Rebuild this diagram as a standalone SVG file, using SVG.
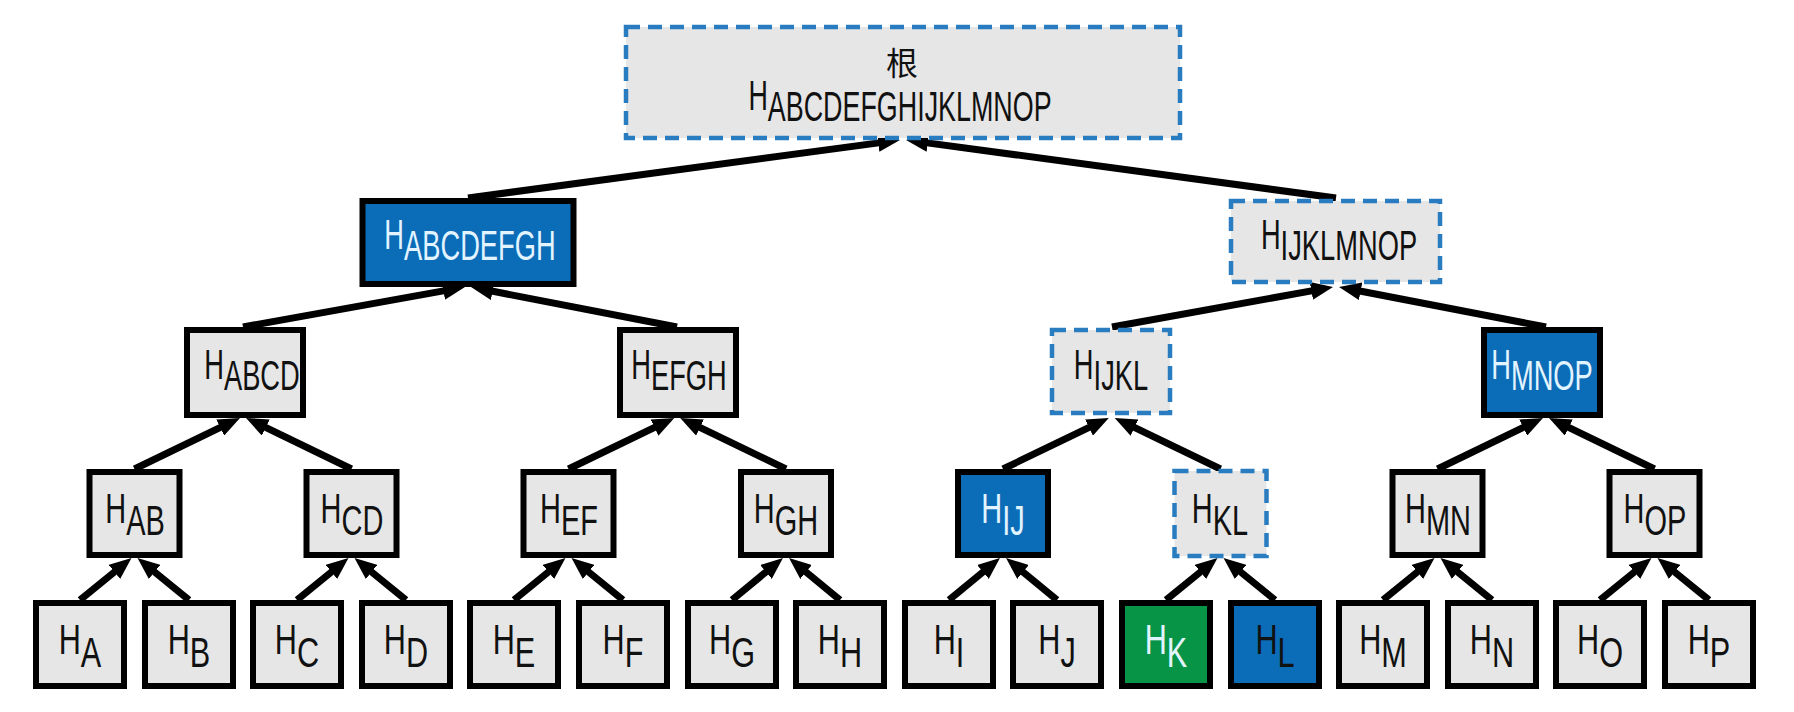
<svg xmlns="http://www.w3.org/2000/svg" width="1794" height="712" viewBox="0 0 1794 712">
<style>
.bg{fill:#fff}
.n{fill:#e6e6e6;stroke:#000;stroke-width:6}
.b{fill:#0b6cb8;stroke:#000;stroke-width:6}
.g{fill:#089447;stroke:#000;stroke-width:6}
.d{fill:#e6e6e6;stroke:#2a7cc0;stroke-width:4.5;stroke-dasharray:14 8}
.t{font-family:"Liberation Sans Narrow","Liberation Sans",sans-serif;font-size:42px;text-anchor:middle;fill:#111}
.w{fill:#e2f4ff}
.cjk{font-family:"Noto Sans CJK SC",sans-serif;font-size:32px;text-anchor:middle;fill:#111}
.e line{stroke:#000;stroke-width:7;marker-end:url(#ah)}
</style>
<defs>
<marker id="ah" markerUnits="userSpaceOnUse" markerWidth="22" markerHeight="18" viewBox="0 0 22 18" refX="10" refY="9" orient="auto">
<path d="M0,0 L22,9 L0,18 z" fill="#000"/>
</marker>
</defs>
<rect class="bg" x="0" y="0" width="1794" height="712"/>
<g id="edges" class="e">
<line x1="80" y1="600" x2="122.2" y2="565.6"/>
<line x1="189" y1="600" x2="146.8" y2="565.6"/>
<line x1="297" y1="600" x2="339.2" y2="565.6"/>
<line x1="406" y1="600" x2="363.8" y2="565.6"/>
<line x1="514" y1="600" x2="556.2" y2="565.6"/>
<line x1="623" y1="600" x2="580.8" y2="565.6"/>
<line x1="732" y1="600" x2="773.7" y2="565.6"/>
<line x1="840" y1="600" x2="798.3" y2="565.6"/>
<line x1="949" y1="600" x2="990.7" y2="565.6"/>
<line x1="1057" y1="600" x2="1015.3" y2="565.6"/>
<line x1="1166" y1="600" x2="1208.2" y2="565.6"/>
<line x1="1275" y1="600" x2="1232.8" y2="565.6"/>
<line x1="1383" y1="600" x2="1425.2" y2="565.6"/>
<line x1="1492" y1="600" x2="1449.8" y2="565.6"/>
<line x1="1600" y1="600" x2="1642.2" y2="565.6"/>
<line x1="1709" y1="600" x2="1666.8" y2="565.6"/>
<line x1="134.5" y1="469" x2="229.2" y2="423.2"/>
<line x1="351.5" y1="469" x2="256.8" y2="423.2"/>
<line x1="568.5" y1="469" x2="663.5" y2="423.2"/>
<line x1="786" y1="469" x2="691" y2="423.2"/>
<line x1="1003" y1="469" x2="1098" y2="423.2"/>
<line x1="1220.5" y1="469" x2="1125.5" y2="423.2"/>
<line x1="1437.5" y1="469" x2="1532.2" y2="423.2"/>
<line x1="1654.5" y1="469" x2="1559.8" y2="423.2"/>
<line x1="243" y1="327" x2="453.2" y2="289.1"/>
<line x1="677" y1="327" x2="482.8" y2="289.3"/>
<line x1="1112" y1="327" x2="1321.2" y2="289.1"/>
<line x1="1546" y1="327" x2="1350.8" y2="289.3"/>
<line x1="468" y1="198" x2="888.1" y2="141.6"/>
<line x1="1336" y1="198" x2="917.9" y2="141.6"/>
</g>
<g id="root"><rect class="d" x="626" y="27" width="554" height="111"/>
<text class="cjk" x="902" y="75">根</text>
<text class="t" transform="translate(900 110) scale(0.64 1)">H<tspan dy="11">ABCDEFGHIJKLMNOP</tspan></text></g>
<g id="HABCDEFGH"><rect class="b" x="362.5" y="201" width="211" height="83"/>
<text class="t w" transform="translate(470 249) scale(0.65 1)">H<tspan dy="11">ABCDEFGH</tspan></text></g>
<g id="HIJKLMNOP"><rect class="d" x="1231" y="201" width="209" height="81"/>
<text class="t" transform="translate(1339 249) scale(0.65 1)">H<tspan dy="11">IJKLMNOP</tspan></text></g>
<g id="HABCD"><rect class="n" x="187" y="330" width="116" height="85"/>
<text class="t" transform="translate(252 379) scale(0.65 1)">H<tspan dy="11">ABCD</tspan></text></g>
<g id="HEFGH"><rect class="n" x="620" y="330" width="116" height="85"/>
<text class="t" transform="translate(679 379) scale(0.65 1)">H<tspan dy="11">EFGH</tspan></text></g>
<g id="HIJKL"><rect class="d" x="1052" y="330" width="118" height="83"/>
<text class="t" transform="translate(1111 379) scale(0.65 1)">H<tspan dy="11">IJKL</tspan></text></g>
<g id="HMNOP"><rect class="b" x="1484" y="330" width="116" height="85"/>
<text class="t w" transform="translate(1542 379) scale(0.65 1)">H<tspan dy="11">MNOP</tspan></text></g>
<g id="HAB"><rect class="n" x="89.5" y="472" width="90" height="83"/>
<text class="t" transform="translate(135 523) scale(0.69 1)">H<tspan dy="12">AB</tspan></text></g>
<g id="HCD"><rect class="n" x="306.5" y="472" width="90" height="83"/>
<text class="t" transform="translate(352 523) scale(0.69 1)">H<tspan dy="12">CD</tspan></text></g>
<g id="HEF"><rect class="n" x="523.5" y="472" width="90" height="83"/>
<text class="t" transform="translate(569 523) scale(0.69 1)">H<tspan dy="12">EF</tspan></text></g>
<g id="HGH"><rect class="n" x="741" y="472" width="90" height="83"/>
<text class="t" transform="translate(786 523) scale(0.69 1)">H<tspan dy="12">GH</tspan></text></g>
<g id="HIJ"><rect class="b" x="958" y="472" width="90" height="83"/>
<text class="t w" transform="translate(1003 523) scale(0.69 1)">H<tspan dy="12">IJ</tspan></text></g>
<g id="HKL"><rect class="d" x="1174.5" y="471" width="92" height="85"/>
<text class="t" transform="translate(1220 523) scale(0.69 1)">H<tspan dy="12">KL</tspan></text></g>
<g id="HMN"><rect class="n" x="1392.5" y="472" width="90" height="83"/>
<text class="t" transform="translate(1438 523) scale(0.69 1)">H<tspan dy="12">MN</tspan></text></g>
<g id="HOP"><rect class="n" x="1609.5" y="472" width="90" height="83"/>
<text class="t" transform="translate(1655 523) scale(0.69 1)">H<tspan dy="12">OP</tspan></text></g>
<g id="HA"><rect class="n" x="36" y="603" width="88" height="83"/><text class="t" transform="translate(80 654) scale(0.73 1)">H<tspan dy="13">A</tspan></text></g>
<g id="HB"><rect class="n" x="145" y="603" width="88" height="83"/><text class="t" transform="translate(189 654) scale(0.73 1)">H<tspan dy="13">B</tspan></text></g>
<g id="HC"><rect class="n" x="253" y="603" width="88" height="83"/><text class="t" transform="translate(297 654) scale(0.73 1)">H<tspan dy="13">C</tspan></text></g>
<g id="HD"><rect class="n" x="362" y="603" width="88" height="83"/><text class="t" transform="translate(406 654) scale(0.73 1)">H<tspan dy="13">D</tspan></text></g>
<g id="HE"><rect class="n" x="470" y="603" width="88" height="83"/><text class="t" transform="translate(514 654) scale(0.73 1)">H<tspan dy="13">E</tspan></text></g>
<g id="HF"><rect class="n" x="579" y="603" width="88" height="83"/><text class="t" transform="translate(623 654) scale(0.73 1)">H<tspan dy="13">F</tspan></text></g>
<g id="HG"><rect class="n" x="688" y="603" width="88" height="83"/><text class="t" transform="translate(732 654) scale(0.73 1)">H<tspan dy="13">G</tspan></text></g>
<g id="HH"><rect class="n" x="796" y="603" width="88" height="83"/><text class="t" transform="translate(840 654) scale(0.73 1)">H<tspan dy="13">H</tspan></text></g>
<g id="HI"><rect class="n" x="905" y="603" width="88" height="83"/><text class="t" transform="translate(949 654) scale(0.73 1)">H<tspan dy="13">I</tspan></text></g>
<g id="HJ"><rect class="n" x="1013" y="603" width="88" height="83"/><text class="t" transform="translate(1057 654) scale(0.73 1)">H<tspan dy="13">J</tspan></text></g>
<g id="HK"><rect class="g" x="1122" y="603" width="88" height="83"/><text class="t w" transform="translate(1166 654) scale(0.73 1)">H<tspan dy="13">K</tspan></text></g>
<g id="HL"><rect class="b" x="1231" y="603" width="88" height="83"/><text class="t" transform="translate(1275 654) scale(0.73 1)">H<tspan dy="13">L</tspan></text></g>
<g id="HM"><rect class="n" x="1339" y="603" width="88" height="83"/><text class="t" transform="translate(1383 654) scale(0.73 1)">H<tspan dy="13">M</tspan></text></g>
<g id="HN"><rect class="n" x="1448" y="603" width="88" height="83"/><text class="t" transform="translate(1492 654) scale(0.73 1)">H<tspan dy="13">N</tspan></text></g>
<g id="HO"><rect class="n" x="1556" y="603" width="88" height="83"/><text class="t" transform="translate(1600 654) scale(0.73 1)">H<tspan dy="13">O</tspan></text></g>
<g id="HP"><rect class="n" x="1665" y="603" width="88" height="83"/><text class="t" transform="translate(1709 654) scale(0.73 1)">H<tspan dy="13">P</tspan></text></g>
</svg>
